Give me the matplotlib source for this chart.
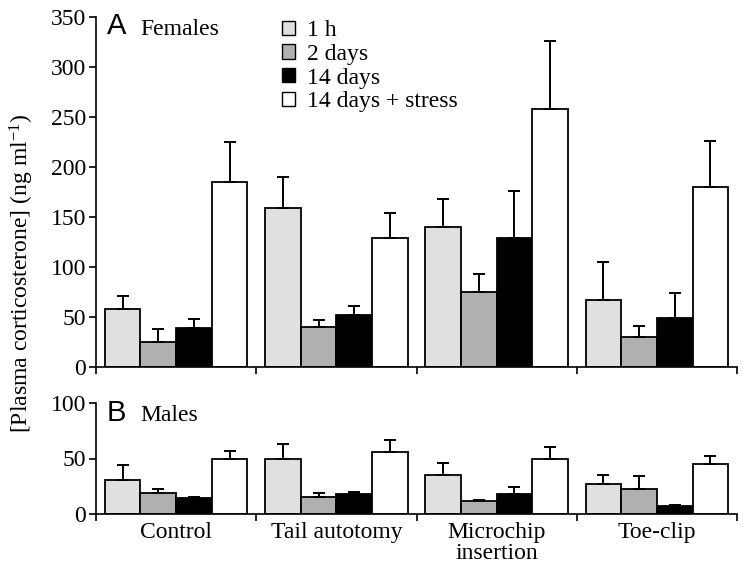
import matplotlib
matplotlib.use('Agg')
import matplotlib.pyplot as plt
from matplotlib.patches import Patch
import numpy as np

plt.rcParams['font.family'] = ['Liberation Serif', 'DejaVu Serif']
plt.rcParams['mathtext.fontset'] = 'custom'
plt.rcParams['mathtext.rm'] = 'Liberation Serif'
plt.rcParams['mathtext.it'] = 'Liberation Serif:italic'

groups = ['Control', 'Tail autotomy', 'Microchip\ninsertion', 'Toe-clip']
series = ['1 h', '2 days', '14 days', '14 days + stress']
colors = ['#e0e0e0', '#b0b0b0', '#000000', '#ffffff']

# females: means and upper error (mean + s.e.m.)
fem_mean = [[57.7, 159.3, 140.3, 66.7],
            [25.0, 40.0, 75.3, 30.0],
            [39.0, 51.7, 128.7, 49.0],
            [185.0, 129.3, 258.0, 180.3]]
fem_top = [[71.0, 190.0, 168.3, 105.3],
           [38.0, 46.7, 93.0, 41.3],
           [47.7, 61.3, 176.0, 74.3],
           [225.0, 154.3, 326.3, 226.3]]

# males
mal_mean = [[30.9, 49.8, 35.4, 27.3],
            [18.9, 15.3, 11.4, 22.8],
            [14.4, 18.0, 18.0, 6.9],
            [49.5, 55.5, 49.8, 44.7]]
mal_top = [[43.8, 62.7, 45.6, 35.1],
           [22.5, 19.2, 12.9, 33.9],
           [15.6, 20.0, 24.0, 7.8],
           [56.7, 66.9, 60.6, 52.5]]

W, H = 743, 569
fig = plt.figure(figsize=(W / 100, H / 100), dpi=100)
ax1 = fig.add_axes([96 / W, 1 - 367 / H, 641 / W, 350 / H])
ax2 = fig.add_axes([96 / W, 1 - 514 / H, 641 / W, 111 / H])

bw = 0.2225
centers = np.arange(len(groups)) + 0.5


def draw(ax, means, tops, ymax, step):
    for i in range(len(series)):
        x = centers + (i - 1.5) * bw
        m = np.array(means[i])
        up = np.array(tops[i]) - m
        ax.bar(x, m, width=bw, color=colors[i], edgecolor='black', linewidth=1.3, zorder=2)
        ax.errorbar(x, m, yerr=[np.zeros_like(up), up], fmt='none', ecolor='black',
                    elinewidth=1.4, capsize=4, capthick=1.4, zorder=3)
    ax.set_xlim(0, 4)
    ax.set_ylim(0, ymax)
    ax.set_yticks(np.arange(0, ymax + 1, step))
    ax.set_xticks(np.arange(0, 5))
    ax.set_xticklabels([])
    ax.spines['top'].set_visible(False)
    ax.spines['right'].set_visible(False)
    ax.spines['left'].set_linewidth(1.2)
    ax.spines['bottom'].set_linewidth(1.2)
    ax.tick_params(axis='both', direction='out', length=5, width=1.2, labelsize=17, pad=2)


draw(ax1, fem_mean, fem_top, 350, 50)
draw(ax2, mal_mean, mal_top, 100, 50)

ax2.set_xticks(centers, minor=True)
ax2.set_xticklabels(groups, minor=True, fontsize=17, linespacing=0.95, va='top')
ax2.tick_params(axis='x', which='minor', length=0, pad=6)

ax1.text(11 / 641, 1.015, 'A', transform=ax1.transAxes, family='Liberation Sans',
         fontsize=21, va='top', ha='left')
ax1.text(44 / 641, 0.995, 'Females', transform=ax1.transAxes, fontsize=17, va='top', ha='left')
ax2.text(11 / 641, 1.04, 'B', transform=ax2.transAxes, family='Liberation Sans',
         fontsize=21, va='top', ha='left')
ax2.text(44 / 641, 0.98, 'Males', transform=ax2.transAxes, fontsize=17, va='top', ha='left')

handles = [Patch(facecolor=c, edgecolor='black', linewidth=1.0) for c in colors]
ax1.legend(handles, series, loc='upper left', bbox_to_anchor=(282 / W, 1 - 20 / H),
           bbox_transform=fig.transFigure, frameon=False, fontsize=17,
           handlelength=0.55, handleheight=0.55, handletextpad=0.5,
           labelspacing=0.12, borderpad=0, borderaxespad=0)

fig.text(22 / W, 1 - 273 / H, '[Plasma corticosterone] (ng ml$^{-1}$)', rotation=90,
         fontsize=17, ha='center', va='center')

fig.savefig('out.png', dpi=100)
